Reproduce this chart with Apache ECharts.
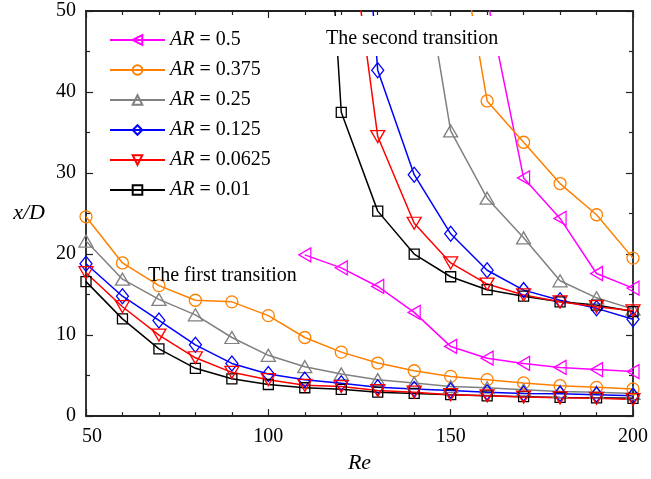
<!DOCTYPE html>
<html>
<head>
<meta charset="utf-8">
<script src="https://cdn.jsdelivr.net/npm/echarts@6/dist/echarts.min.js"></script>
<style>html,body{margin:0;padding:0;background:#fff;}#c{width:651px;height:479px;}</style>
</head>
<body>
<div id="c"></div>
<script>
// ---- data ----
const RE_LOW = [50, 60, 70, 80, 90, 100, 110, 120, 130, 140, 150, 160, 170, 180, 190, 200];
const RE_MAG_LOW = [110, 120, 130, 140, 150, 160, 170, 180, 190, 200];

const LOW_AR0500 = [19.9, 18.3, 16.0, 12.8, 8.6, 7.15, 6.5, 6.0, 5.75, 5.5];
const LOW_AR0375 = [24.6, 18.9, 16.1, 14.3, 14.1, 12.4, 9.7, 7.9, 6.55, 5.6, 4.9, 4.5, 4.1, 3.75, 3.55, 3.35];
const LOW_AR0250 = [21.6, 16.9, 14.4, 12.5, 9.7, 7.5, 6.1, 5.2, 4.5, 4.1, 3.65, 3.5, 3.25, 3.05, 2.95, 2.8];
const LOW_AR0125 = [18.8, 14.8, 11.8, 8.8, 6.5, 5.2, 4.5, 4.05, 3.55, 3.35, 3.15, 2.95, 2.8, 2.75, 2.65, 2.5];
const LOW_AR0062 = [17.7, 13.5, 10.0, 7.2, 5.4, 4.5, 3.8, 3.65, 3.15, 2.95, 2.65, 2.5, 2.35, 2.25, 2.2, 2.05];
const LOW_AR0010 = [16.6, 12.0, 8.3, 5.9, 4.6, 3.9, 3.5, 3.3, 2.95, 2.8, 2.65, 2.5, 2.4, 2.3, 2.25, 2.2];

const RE_UP_AR0500 = [160, 170, 180, 190, 200];
const UP_AR0500 = [51.5, 29.4, 24.4, 17.6, 15.8];
const RE_UP_AR0375 = [150, 160, 170, 180, 190, 200];
const UP_AR0375 = [65, 38.9, 33.8, 28.7, 24.85, 19.5];
const RE_UP_AR0250 = [140, 150, 160, 170, 180, 190, 200];
const UP_AR0250 = [62.3, 35.2, 26.9, 22.0, 16.7, 14.6, 13.2];
const RE_UP_AR0125 = [120, 130, 140, 150, 160, 170, 180, 190, 200];
const UP_AR0125 = [100, 42.7, 29.8, 22.5, 18.0, 15.55, 14.3, 13.3, 11.95];
const RE_UP_AR0062 = [120, 130, 140, 150, 160, 170, 180, 190, 200];
const UP_AR0062 = [68.2, 34.5, 23.8, 18.9, 16.3, 14.95, 14.1, 13.5, 13.0];
const RE_UP_AR0010 = [110, 120, 130, 140, 150, 160, 170, 180, 190, 200];
const UP_AR0010 = [110, 37.5, 25.3, 20.0, 17.2, 15.6, 14.8, 14.1, 13.7, 12.9];

const X_TICK_LABELS = [50, 100, 150, 200];
const Y_TICK_LABELS = [0, 10, 20, 30, 40, 50];

const NAMES = ['AR = 0.5', 'AR = 0.375', 'AR = 0.25', 'AR = 0.125', 'AR = 0.0625', 'AR = 0.01'];

// ---- build ----
const FONT = 'Liberation Serif';
const pair = (xs, ys) => xs.map((x, i) => [x, ys[i]]);

const styles = {
  'AR = 0.5':    {color: '#ff00ff', symbol: 'triangle', size: [14, 12], rotate: 90},
  'AR = 0.375':  {color: '#ff8000', symbol: 'circle', size: 12, rotate: 0},
  'AR = 0.25':   {color: '#808080', symbol: 'triangle', size: [14, 12], rotate: 0},
  'AR = 0.125':  {color: '#0000ff', symbol: 'diamond', size: [12, 15], rotate: 0},
  'AR = 0.0625': {color: '#ff0000', symbol: 'triangle', size: [14, 12], rotate: 180},
  'AR = 0.01':   {color: '#000000', symbol: 'rect', size: 10, rotate: 0}
};

const branches = [
  ['AR = 0.5', pair(RE_MAG_LOW, LOW_AR0500), pair(RE_UP_AR0500, UP_AR0500)],
  ['AR = 0.375', pair(RE_LOW, LOW_AR0375), pair(RE_UP_AR0375, UP_AR0375)],
  ['AR = 0.25', pair(RE_LOW, LOW_AR0250), pair(RE_UP_AR0250, UP_AR0250)],
  ['AR = 0.125', pair(RE_LOW, LOW_AR0125), pair(RE_UP_AR0125, UP_AR0125)],
  ['AR = 0.01', pair(RE_LOW, LOW_AR0010), pair(RE_UP_AR0010, UP_AR0010)],
  ['AR = 0.0625', pair(RE_LOW, LOW_AR0062), pair(RE_UP_AR0062, UP_AR0062)]
];

const series = [];
branches.forEach(([name, low, up]) => {
  const s = styles[name];
  [low, up].forEach(d => {
    series.push({
      name: name,
      type: 'line',
      data: d,
      clip: true,
      color: s.color,
      symbol: s.symbol,
      symbolSize: s.size,
      symbolRotate: s.rotate,
      showAllSymbol: true,
      lineStyle: {color: s.color, width: 1.5},
      itemStyle: {color: 'rgba(255,255,255,0)', borderColor: s.color, borderWidth: 1.3},
      emphasis: {disabled: true},
      animation: false
    });
  });
});

const axisLineStyle = {color: '#222', width: 1.8};

const option = {
  animation: false,
  textStyle: {fontFamily: FONT},
  grid: {left: 86, right: 16, top: 11, bottom: 60, containLabel: false},
  legend: {
    data: NAMES,
    orient: 'vertical',
    left: 109,
    top: 30,
    padding: 0,
    itemWidth: 55,
    itemHeight: 12,
    itemGap: 10,
    textStyle: {
      fontFamily: FONT, fontSize: 20, color: '#000', lineHeight: 20,
      rich: {i: {fontFamily: FONT, fontSize: 20, fontStyle: 'italic', color: '#000', lineHeight: 20}}
    },
    formatter: n => '{i|AR}' + n.slice(2),
    selectedMode: false
  },
  xAxis: [{
    type: 'value', min: 50, max: 200, interval: 50,
    name: 'Re', nameLocation: 'middle', nameGap: 33,
    nameTextStyle: {fontFamily: FONT, fontSize: 22, fontStyle: 'italic', color: '#000'},
    axisLine: {show: true, onZero: false, lineStyle: axisLineStyle},
    axisTick: {show: true, inside: true, length: 7, lineStyle: {color: '#222', width: 1.2}},
    minorTick: {show: true, splitNumber: 5, length: 4, lineStyle: {color: '#222', width: 1.2}},
    splitLine: {show: false},
    axisLabel: {
      fontFamily: FONT, fontSize: 20, color: '#000', margin: 11,
      formatter: v => X_TICK_LABELS.indexOf(v) === 0 ? '{f|' + v + '}' : String(v),
      rich: {f: {fontFamily: FONT, fontSize: 20, color: '#000', padding: [0, 0, 0, 12]}}
    }
  }, {
    type: 'value', min: 50, max: 200, interval: 50, position: 'top',
    axisLine: {show: true, onZero: false, lineStyle: axisLineStyle},
    axisTick: {show: true, inside: true, length: 7, lineStyle: {color: '#222', width: 1.2}},
    minorTick: {show: true, splitNumber: 5, length: 4, lineStyle: {color: '#222', width: 1.2}},
    splitLine: {show: false},
    axisLabel: {show: false}
  }],
  yAxis: [{
    type: 'value', min: 0, max: 50, interval: 10,
    name: 'x/D', nameLocation: 'middle', nameRotate: 0, nameGap: 41,
    nameTextStyle: {fontFamily: FONT, fontSize: 22, fontStyle: 'italic', color: '#000'},
    axisLine: {show: true, onZero: false, lineStyle: axisLineStyle},
    axisTick: {show: true, inside: true, length: 7, lineStyle: {color: '#222', width: 1.2}},
    minorTick: {show: true, splitNumber: 2, length: 4, lineStyle: {color: '#222', width: 1.2}},
    splitLine: {show: false},
    axisLabel: {fontFamily: FONT, fontSize: 20, color: '#000', margin: 10,
      formatter: v => Y_TICK_LABELS.indexOf(v) >= 0 ? String(v) : ''}
  }, {
    type: 'value', min: 0, max: 50, interval: 10, position: 'right',
    axisLine: {show: true, onZero: false, lineStyle: axisLineStyle},
    axisTick: {show: true, inside: true, length: 7, lineStyle: {color: '#222', width: 1.2}},
    minorTick: {show: true, splitNumber: 2, length: 4, lineStyle: {color: '#222', width: 1.2}},
    splitLine: {show: false},
    axisLabel: {show: false}
  }],
  graphic: [
    {type: 'rect', left: 320, top: 16, z: 99, silent: true,
     shape: {width: 192, height: 40}, style: {fill: '#fff'}},
    {type: 'text', left: 326, top: 29, z: 100,
     style: {text: 'The second transition', fontFamily: FONT, fontSize: 20, fill: '#000'}},
    {type: 'text', left: 148, top: 266, z: 100,
     style: {text: 'The first transition', fontFamily: FONT, fontSize: 20, fill: '#000'}}
  ],
  series: series
};

const chart = echarts.init(document.getElementById('c'), null, {renderer: 'canvas'});
chart.setOption(option);
</script>
</body>
</html>
